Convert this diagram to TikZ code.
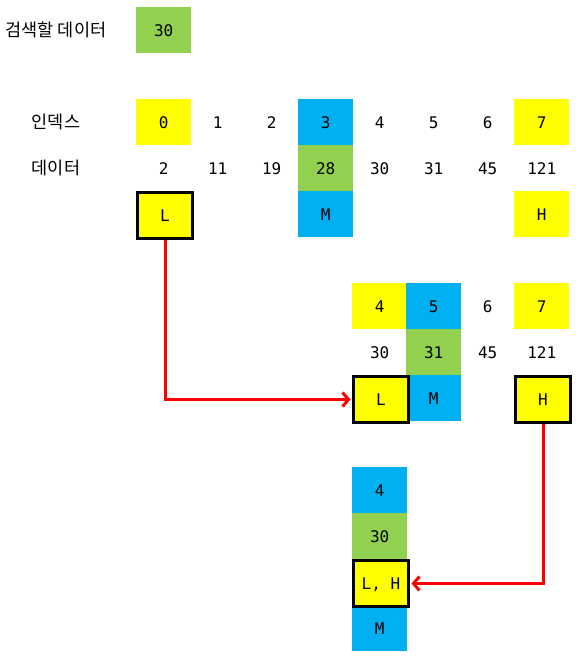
\documentclass[tikz,border=0pt]{standalone}
\usepackage{fontspec}
\newfontfamily\kr{Noto Sans CJK KR}
\setmonofont{DejaVu Sans Mono}
\usetikzlibrary{arrows.meta}
\definecolor{cyel}{HTML}{FFFF00}
\definecolor{cblue}{HTML}{00B0F0}
\definecolor{cgreen}{HTML}{92D050}
\definecolor{cred}{HTML}{FF0000}
\tikzset{
  cell/.style={minimum width=55pt, minimum height=46pt, inner sep=0pt, anchor=north west,
    text height=11.7pt, text depth=0pt,
    font=\ttfamily\fontsize{16}{19}\selectfont},
  yel/.style={cell, fill=cyel},
  blu/.style={cell, fill=cblue},
  grn/.style={cell, fill=cgreen},
  ptr/.style={cell, fill=cyel, draw=black, line width=3pt},
  lbl/.style={inner sep=0pt, font=\kr\fontsize{17.5}{20}\selectfont},
  redarrow/.style={draw=cred, line width=3pt, -{Straight Barb[length=6pt,width=14pt]}}
}
\begin{document}
\begin{tikzpicture}[x=1pt,y=-1pt]
\useasboundingbox (0,0) rectangle (582,663);
% search value
\node[lbl] (title) at (56,30) {검색할 데이터};
\node[grn] (key) at (136,7) {30};
% labels
\node[lbl] (lidx) at (56,122) {인덱스};
\node[lbl] (ldat) at (56,168) {데이터};
% first array
\node[yel]  (i0) at (136,99) {0};
\node[cell] (i1) at (190,99) {1};
\node[cell] (i2) at (244,99) {2};
\node[blu]  (i3) at (298,99) {3};
\node[cell] (i4) at (352,99) {4};
\node[cell] (i5) at (406,99) {5};
\node[cell] (i6) at (460,99) {6};
\node[yel]  (i7) at (514,99) {7};
\node[cell] (d0) at (136,145) {2};
\node[cell] (d1) at (190,145) {11};
\node[cell] (d2) at (244,145) {19};
\node[grn]  (d3) at (298,145) {28};
\node[cell] (d4) at (352,145) {30};
\node[cell] (d5) at (406,145) {31};
\node[cell] (d6) at (460,145) {45};
\node[cell] (d7) at (514,145) {121};
\node[ptr]  (La) at (136,191) {L};
\node[blu]  (Ma) at (298,191) {M};
\node[yel]  (Ha) at (514,191) {H};
% second step
\node[yel]  (j4) at (352,283) {4};
\node[blu]  (j5) at (406,283) {5};
\node[cell] (j6) at (460,283) {6};
\node[yel]  (j7) at (514,283) {7};
\node[cell] (e4) at (352,329) {30};
\node[grn]  (e5) at (406,329) {31};
\node[cell] (e6) at (460,329) {45};
\node[cell] (e7) at (514,329) {121};
\node[blu]  (Mb) at (406,375) {M};
\node[ptr]  (Lb) at (352,375) {L};
\node[ptr]  (Hb) at (514,375) {H};
% third step
\node[blu]  (k4) at (352,467) {4};
\node[grn]  (f4) at (352,513) {30};
\node[blu]  (Mc) at (352,605) {M};
\node[ptr]  (LHc) at (352,559) {L, H};
% arrows
\draw[redarrow] (La.south) |- ([xshift=-1.5pt]Lb.west);
\draw[redarrow] (Hb.south) |- ([xshift=1.5pt]LHc.east);
\end{tikzpicture}
\end{document}
